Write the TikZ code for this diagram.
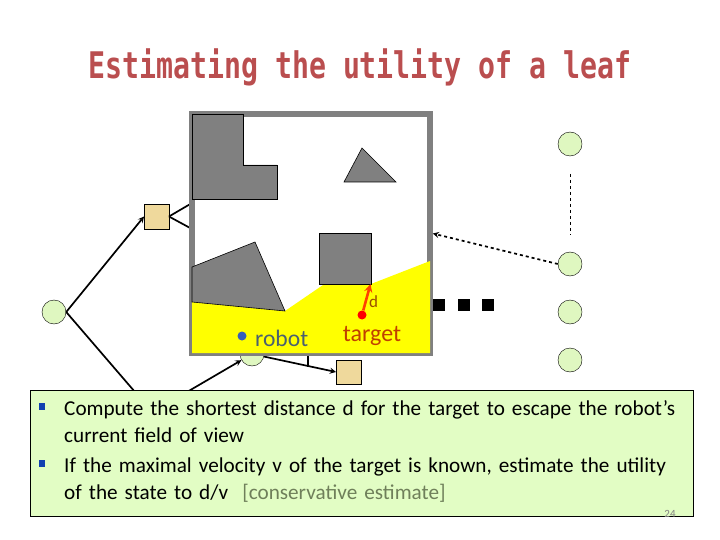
\documentclass[tikz,border=0pt]{standalone}
\usepackage{fontspec}
\setmainfont{Carlito}
\newfontfamily\titlefont{DejaVu Sans Mono}
\usetikzlibrary{positioning}
\definecolor{leafgreen}{HTML}{DFF7C0}
\definecolor{boxgreen}{HTML}{E2FDC4}
\definecolor{minsand}{HTML}{EFD99C}
\definecolor{wallgrey}{HTML}{808080}
\definecolor{titlered}{HTML}{BA4E4F}
\definecolor{robotslate}{HTML}{4A6070}
\definecolor{targetrust}{HTML}{C04000}
\definecolor{noteolive}{HTML}{6F7F5A}
\definecolor{bulletblue}{HTML}{1040B0}
\definecolor{viewyellow}{HTML}{FFFF00}
\tikzset{
	leaf/.style={circle, draw=black, fill=leafgreen, inner sep=0, minimum size=24pt},
	chance/.style={rectangle, draw=black, fill=minsand, inner sep=0, minimum size=24.5pt},
	dotbox/.style={rectangle, fill=black, inner sep=0, minimum size=12pt},
	obstacle/.style={draw=black, fill=wallgrey, line width=0.6pt},
	edge/.style={black, line width=1.7pt},
	bulletbox/.style={rectangle, fill=bulletblue, inner sep=0, minimum width=6pt, minimum height=7pt},
	bodytext/.style={anchor=north west, align=left, inner sep=0, text width=625pt, font=\fontsize{21.2}{27}\selectfont}
}
\begin{document}
\begin{tikzpicture}[x=1pt, y=-1pt]
	\useasboundingbox (0,0) rectangle (720,540);
	\node[anchor=center, text=titlered, font=\titlefont\bfseries\fontsize{28.2}{32}\selectfont] (title) at (360,67) {\scalebox{1}[1.3]{Estimating the utility of a leaf}};
	\node[leaf] (root) at (54,312) {};
	\node[chance] (sqleft) at (156.5,216.5) {};
	\node[leaf] (midleaf) at (252,354) {};
	\node[chance] (sqmid) at (348.5,372) {};
	\node[leaf] (top) at (570,144) {};
	\node[leaf] (rightone) at (570,264) {};
	\node[leaf] (righttwo) at (570,312) {};
	\node[leaf] (rightthree) at (570,360) {};
	\coordinate (hiddenone) at (135,392);
	\coordinate (hiddentwo) at (187,392);
	\coordinate (wallone) at (192,203);
	\coordinate (walltwo) at (192,229);
	\coordinate (ticktop) at (308,345);
	\coordinate (tickend) at (308,367);
	\coordinate (dashtop) at (570,174);
	\coordinate (dashend) at (570,235);
	\draw[edge, -stealth] (root.east) -- (sqleft.west);
	\draw[edge] (root.east) -- (hiddenone);
	\draw[edge] (sqleft.east) -- (wallone);
	\draw[edge] (sqleft.east) -- (walltwo);
	\draw[edge, -stealth] (hiddentwo) -- (midleaf);
	\draw[edge, -stealth] (midleaf) -- (sqmid.west);
	\draw[edge] (ticktop) -- (tickend);
	\draw[black, dashed, line width=0.7pt] (dashtop) -- (dashend);
	\node[draw=wallgrey, fill=white, line width=5.6pt, inner sep=0, minimum width=238pt, minimum height=239pt] (frame) at (311,233.5) {};
	\draw[edge, dashed, -stealth] (rightone.west) -- (frame.east);
	\fill[viewyellow] (192,302) -- (285,311) -- (323,285) -- (371,284) -- (430,261) -- (430,353) -- (192,353) -- cycle;
	\draw[obstacle] (192,114) -- (243,114) -- (243,165) -- (277,165) -- (277,199) -- (192,199) -- cycle;
	\draw[obstacle] (362,148) -- (396,182) -- (344,182) -- cycle;
	\draw[obstacle] (319,233) rectangle (371,284);
	\draw[obstacle] (192,267) -- (255,242) -- (285,311) -- (192,302) -- cycle;
	\node[circle, fill=bulletblue!85!white, inner sep=0, minimum size=9pt] (robotdot) at (242,336) {};
	\node[text=robotslate, font=\fontsize{23.6}{24}\selectfont, inner sep=0, anchor=base west] (robotlabel) at (255,346) {robot};
	\node[circle, fill=red, inner sep=0, minimum size=9pt] (targetdot) at (362,315) {};
	\node[text=targetrust, font=\fontsize{24}{24}\selectfont, inner sep=0, anchor=base] (targetlabel) at (372,341) {target};
	\coordinate (escape) at (370.5,284);
	\draw[orange!50!red, line width=2.6pt, -stealth] (targetdot) -- (escape);
	\node[text=orange!60!black, font=\fontsize{17}{18}\selectfont, inner sep=0] (dlabel) at (373.5,302) {d};
	\node[dotbox] (dotone) at (439,305) {};
	\node[dotbox] (dottwo) at (464,305) {};
	\node[dotbox] (dotthree) at (488,305) {};
	\node[draw=black, fill=boxgreen, line width=0.8pt, inner sep=0, minimum width=663pt, minimum height=126pt] (infobox) at (361.5,453) {};
	\node[bulletbox] (bulletone) at (42,406) {};
	\node[bulletbox] (bullettwo) at (42,463) {};
	\node[bodytext] (pointone) at (64,400) {Compute the shortest distance d for the target to escape the robot’s\\current field of view};
	\node[bodytext] (pointtwo) at (64,458) {If the maximal velocity v of the target is known, estimate the utility\\of the state to d/v\ \ \textcolor{noteolive}{[conservative estimate]}};
	\node[text=gray, font=\fontsize{11}{12}\selectfont, inner sep=0] (pagenum) at (670,514) {24};
\end{tikzpicture}
\end{document}
